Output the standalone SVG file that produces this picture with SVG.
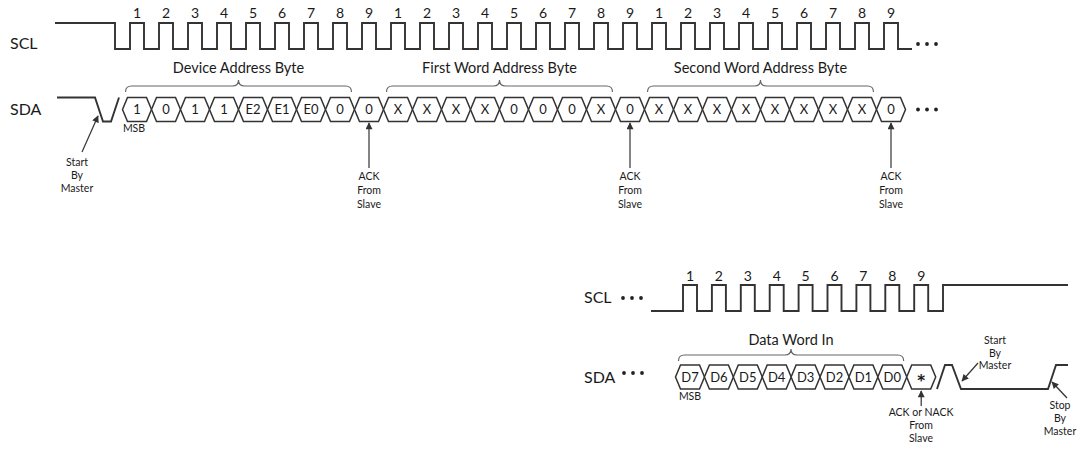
<svg xmlns="http://www.w3.org/2000/svg" width="1083" height="473" viewBox="0 0 1083 473">
<style>
text{font-family:Lato,"Liberation Sans",sans-serif;fill:#1a1a1a}
.w{fill:none;stroke:#333;stroke-width:1.9;stroke-linejoin:miter}
.hx{fill:#fff;stroke:#333;stroke-width:1.5}
.br{fill:none;stroke:#666;stroke-width:1.2}
.ar{stroke:#333;stroke-width:1.2;fill:none}
.num{font-size:14px;text-anchor:middle}
.lbl{font-size:16px}
.ttl{font-size:14.5px;text-anchor:middle}
.bit{font-size:13px;text-anchor:middle}
.sm{font-size:10.5px;text-anchor:middle}
.dot{fill:#222}
.star{font-family:"DejaVu Sans","Liberation Sans",sans-serif;font-size:15px;font-weight:bold}
</style>
<defs>
<path id="hex" d="M-14.5,0 l5,-12 h19 l5,12 l-5,12 h-19 z"/>
<marker id="ah" viewBox="0 0 10 10" refX="9" refY="5" markerWidth="8" markerHeight="7" markerUnits="userSpaceOnUse" orient="auto"><path d="M0,0 L10,5 L0,10 z" fill="#333"/></marker>
</defs>

<g id="top-scl">
<text class="lbl" x="10" y="49">SCL</text>
<path class="w" d="M55,23 H115 V49 H130 V23h14V49h15V23h14V49h15V23h14V49h15V23h14V49h15V23h14V49h15V23h14V49h15V23h14V49h15V23h14V49h15V23h14V49h15V23h14V49h15V23h14V49h15V23h14V49h15V23h14V49h15V23h14V49h15V23h14V49h15V23h14V49h15V23h14V49h15V23h14V49h15V23h14V49h15V23h14V49h15V23h14V49h15V23h14V49h15V23h14V49h15V23h14V49h15V23h14V49h15V23h14V49h15V23h14V49H912"/>
<g class="num">
<text x="137" y="18">1</text><text x="166" y="18">2</text><text x="195" y="18">3</text><text x="224" y="18">4</text><text x="253" y="18">5</text><text x="282" y="18">6</text><text x="311" y="18">7</text><text x="340" y="18">8</text><text x="369" y="18">9</text>
<text x="398" y="18">1</text><text x="427" y="18">2</text><text x="456" y="18">3</text><text x="485" y="18">4</text><text x="514" y="18">5</text><text x="543" y="18">6</text><text x="572" y="18">7</text><text x="601" y="18">8</text><text x="630" y="18">9</text>
<text x="659" y="18">1</text><text x="688" y="18">2</text><text x="717" y="18">3</text><text x="746" y="18">4</text><text x="775" y="18">5</text><text x="804" y="18">6</text><text x="833" y="18">7</text><text x="862" y="18">8</text><text x="891" y="18">9</text>
</g>
<circle class="dot" cx="918" cy="44" r="1.9"/><circle class="dot" cx="927" cy="44" r="1.9"/><circle class="dot" cx="936" cy="44" r="1.9"/>
</g>

<g id="top-braces">
<path class="br" d="M125.5,92 Q125.5,86 131.5,86 H232.5 Q238.5,86 238.5,80 Q238.5,86 244.5,86 H345.5 Q351.5,86 351.5,92"/>
<text class="ttl" x="238.5" y="73">Device Address Byte</text>
<path class="br" d="M386.5,92 Q386.5,86 392.5,86 H493.5 Q499.5,86 499.5,80 Q499.5,86 505.5,86 H606.5 Q612.5,86 612.5,92"/>
<text class="ttl" x="499.5" y="73">First Word Address Byte</text>
<path class="br" d="M647.5,92 Q647.5,86 653.5,86 H754.5 Q760.5,86 760.5,80 Q760.5,86 766.5,86 H867.5 Q873.5,86 873.5,92"/>
<text class="ttl" x="760.5" y="73">Second Word Address Byte</text>
</g>

<g id="top-sda">
<text class="lbl" x="10" y="115">SDA</text>
<path class="w" d="M57,97.5 H95 L103,121.5 H111 L119,97.5"/>
<circle class="dot" cx="918" cy="109.5" r="1.9"/><circle class="dot" cx="927" cy="109.5" r="1.9"/><circle class="dot" cx="936" cy="109.5" r="1.9"/>
</g>

<g id="top-bits" class="bit">
<g id="b0"><use href="#hex" class="hx" x="137" y="109.5"/><text x="137" y="114">1</text></g>
<g id="b1"><use href="#hex" class="hx" x="166" y="109.5"/><text x="166" y="114">0</text></g>
<g id="b2"><use href="#hex" class="hx" x="195" y="109.5"/><text x="195" y="114">1</text></g>
<g id="b3"><use href="#hex" class="hx" x="224" y="109.5"/><text x="224" y="114">1</text></g>
<g id="b4"><use href="#hex" class="hx" x="253" y="109.5"/><text x="253" y="114">E2</text></g>
<g id="b5"><use href="#hex" class="hx" x="282" y="109.5"/><text x="282" y="114">E1</text></g>
<g id="b6"><use href="#hex" class="hx" x="311" y="109.5"/><text x="311" y="114">E0</text></g>
<g id="b7"><use href="#hex" class="hx" x="340" y="109.5"/><text x="340" y="114">0</text></g>
<g id="b8"><use href="#hex" class="hx" x="369" y="109.5"/><text x="369" y="114">0</text></g>
<g id="b9"><use href="#hex" class="hx" x="398" y="109.5"/><text x="398" y="114">X</text></g>
<g id="b10"><use href="#hex" class="hx" x="427" y="109.5"/><text x="427" y="114">X</text></g>
<g id="b11"><use href="#hex" class="hx" x="456" y="109.5"/><text x="456" y="114">X</text></g>
<g id="b12"><use href="#hex" class="hx" x="485" y="109.5"/><text x="485" y="114">X</text></g>
<g id="b13"><use href="#hex" class="hx" x="514" y="109.5"/><text x="514" y="114">0</text></g>
<g id="b14"><use href="#hex" class="hx" x="543" y="109.5"/><text x="543" y="114">0</text></g>
<g id="b15"><use href="#hex" class="hx" x="572" y="109.5"/><text x="572" y="114">0</text></g>
<g id="b16"><use href="#hex" class="hx" x="601" y="109.5"/><text x="601" y="114">X</text></g>
<g id="b17"><use href="#hex" class="hx" x="630" y="109.5"/><text x="630" y="114">0</text></g>
<g id="b18"><use href="#hex" class="hx" x="659" y="109.5"/><text x="659" y="114">X</text></g>
<g id="b19"><use href="#hex" class="hx" x="688" y="109.5"/><text x="688" y="114">X</text></g>
<g id="b20"><use href="#hex" class="hx" x="717" y="109.5"/><text x="717" y="114">X</text></g>
<g id="b21"><use href="#hex" class="hx" x="746" y="109.5"/><text x="746" y="114">X</text></g>
<g id="b22"><use href="#hex" class="hx" x="775" y="109.5"/><text x="775" y="114">X</text></g>
<g id="b23"><use href="#hex" class="hx" x="804" y="109.5"/><text x="804" y="114">X</text></g>
<g id="b24"><use href="#hex" class="hx" x="833" y="109.5"/><text x="833" y="114">X</text></g>
<g id="b25"><use href="#hex" class="hx" x="862" y="109.5"/><text x="862" y="114">X</text></g>
<g id="b26"><use href="#hex" class="hx" x="891" y="109.5"/><text x="891" y="114">0</text></g>
</g>

<g id="top-notes" class="sm">
<text x="134" y="132">MSB</text>
<text x="77" y="166">Start</text><text x="77" y="179">By</text><text x="77" y="192">Master</text>
<text x="369" y="180">ACK</text><text x="369" y="194">From</text><text x="369" y="208">Slave</text>
<text x="630" y="180">ACK</text><text x="630" y="194">From</text><text x="630" y="208">Slave</text>
<text x="891" y="180">ACK</text><text x="891" y="194">From</text><text x="891" y="208">Slave</text>
</g>

<g id="bot-scl">
<text class="lbl" x="584" y="303">SCL</text>
<circle class="dot" cx="623" cy="298" r="1.9"/><circle class="dot" cx="632" cy="298" r="1.9"/><circle class="dot" cx="641" cy="298" r="1.9"/>
<path class="w" d="M651,311 H683 V285h14V311h14.9V285h14V311h14.9V285h14V311h14.9V285h14V311h14.9V285h14V311h14.9V285h14V311h14.9V285h14V311h14.9V285h14V311h14.9V285h14V311H943V285H1068"/>
<g class="num">
<text x="690" y="281">1</text><text x="718.9" y="281">2</text><text x="747.8" y="281">3</text><text x="776.7" y="281">4</text><text x="805.6" y="281">5</text><text x="834.5" y="281">6</text><text x="863.4" y="281">7</text><text x="892.3" y="281">8</text><text x="921.2" y="281">9</text>
</g>
</g>

<g id="bot-brace">
<path class="br" d="M678.5,361 Q678.5,355 684.5,355 H785 Q791,355 791,349 Q791,355 797,355 H897.7 Q903.7,355 903.7,361"/>
<text class="ttl" x="791" y="345">Data Word In</text>
</g>

<g id="bot-sda">
<text class="lbl" x="584" y="383">SDA</text>
<circle class="dot" cx="624" cy="373" r="1.9"/><circle class="dot" cx="633" cy="373" r="1.9"/><circle class="dot" cx="642" cy="373" r="1.9"/>
<path class="w" d="M937,389 L945,365 H952 L961,389 H1048 L1056,365 H1068"/>
</g>

<g id="bot-bits" class="bit">
<g id="d7"><use href="#hex" class="hx" x="690" y="377"/><text x="690" y="381.5">D7</text></g>
<g id="d6"><use href="#hex" class="hx" x="718.9" y="377"/><text x="718.9" y="381.5">D6</text></g>
<g id="d5"><use href="#hex" class="hx" x="747.8" y="377"/><text x="747.8" y="381.5">D5</text></g>
<g id="d4"><use href="#hex" class="hx" x="776.7" y="377"/><text x="776.7" y="381.5">D4</text></g>
<g id="d3"><use href="#hex" class="hx" x="805.6" y="377"/><text x="805.6" y="381.5">D3</text></g>
<g id="d2"><use href="#hex" class="hx" x="834.5" y="377"/><text x="834.5" y="381.5">D2</text></g>
<g id="d1"><use href="#hex" class="hx" x="863.4" y="377"/><text x="863.4" y="381.5">D1</text></g>
<g id="d0"><use href="#hex" class="hx" x="892.3" y="377"/><text x="892.3" y="381.5">D0</text></g>
<g id="ack"><use href="#hex" class="hx" x="921.2" y="377"/><text class="star" x="921.2" y="385.5">*</text></g>
</g>

<g id="bot-notes" class="sm">
<text x="690" y="400">MSB</text>
<text x="995" y="344">Start</text><text x="995" y="356.5">By</text><text x="995" y="369">Master</text>
<text x="921" y="416">ACK or NACK</text><text x="921" y="429">From</text><text x="921" y="442">Slave</text>
<text x="1060" y="409">Stop</text><text x="1060" y="422">By</text><text x="1060" y="435">Master</text>
</g>

<g id="connectors">
<line class="ar" x1="82" y1="152" x2="98" y2="116" marker-end="url(#ah)"/>
<line class="ar" x1="369" y1="168" x2="369" y2="123" marker-end="url(#ah)"/>
<line class="ar" x1="630" y1="168" x2="630" y2="123" marker-end="url(#ah)"/>
<line class="ar" x1="891" y1="168" x2="891" y2="123" marker-end="url(#ah)"/>
<line class="ar" x1="921.2" y1="406" x2="921.2" y2="391" marker-end="url(#ah)"/>
<line class="ar" x1="978" y1="363" x2="962" y2="381" marker-end="url(#ah)"/>
<line class="ar" x1="1067" y1="398" x2="1052" y2="382" marker-end="url(#ah)"/>
</g>
</svg>
